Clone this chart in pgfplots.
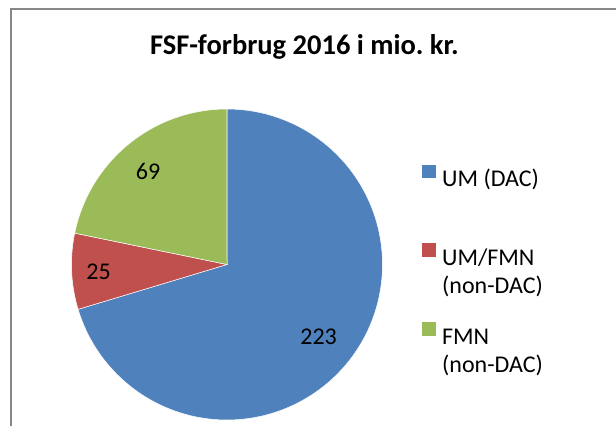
\documentclass[border=0pt]{standalone}
\usepackage{pgfplots}
\pgfplotsset{compat=1.18}
\usepackage{pgfplotstable}
\usepackage{fontspec}
\setmainfont{Carlito}
\definecolor{cblue}{HTML}{4F81BD}
\definecolor{cred}{HTML}{C0504D}
\definecolor{cgreen}{HTML}{9BBB59}
\definecolor{framec}{HTML}{888888}
\pgfplotstableread{
label value
UM-DAC 223
UM-FMN 25
FMN 69
}\piedata
\pgfplotstablegetelem{0}{value}\of\piedata \let\vA\pgfplotsretval
\pgfplotstablegetelem{1}{value}\of\piedata \let\vB\pgfplotsretval
\pgfplotstablegetelem{2}{value}\of\piedata \let\vC\pgfplotsretval
\frenchspacing
\begin{document}
\begin{tikzpicture}[x=1pt,y=1pt]
% picture frame in pixel coordinates shifted by (-71.5,-6)
\path[use as bounding box] (-71.5,-6) rectangle (544.5,420);
\pgfmathsetmacro{\tot}{\vA+\vB+\vC}
\pgfmathsetmacro{\aAs}{90-360*(\vA/\tot)}
\pgfmathsetmacro{\aBs}{\aAs-360*(\vB/\tot)}
\pgfmathsetmacro{\aCs}{\aBs-360*(\vC/\tot)}
\begin{axis}[scale only axis,
  width=311pt, height=311pt, xmin=-1, xmax=1, ymin=-1, ymax=1,
  hide axis, clip=false,
  legend cell align=left,
  legend image code/.code={\fill[#1] (0pt,-0.5pt) rectangle (14.5pt,14pt);},
  legend style={draw=none, fill=none, at={(1.114,0.8305)}, anchor=north west,
    font=\fontsize{24}{28}\selectfont, column sep=6pt, row sep=54.5pt,
    nodes={inner sep=0pt}},
]
\addplot[fill=cblue, draw=white, line width=0.5pt, domain=\aAs:90, samples=120] ({cos(x)},{sin(x)}) -- (axis cs:0,0) -- cycle;
\addlegendentry{UM (DAC)}
\addplot[fill=cred, draw=white, line width=0.5pt, domain=\aBs:\aAs, samples=30] ({cos(x)},{sin(x)}) -- (axis cs:0,0) -- cycle;
\addlegendentry{\begin{tabular}[t]{@{}l@{}}UM/FMN\\(non-DAC)\end{tabular}}
\addplot[fill=cgreen, draw=white, line width=0.5pt, domain=\aCs:\aBs, samples=60] ({cos(x)},{sin(x)}) -- (axis cs:0,0) -- cycle;
\addlegendentry{\begin{tabular}[t]{@{}l@{}}FMN\\(non-DAC)\end{tabular}}
\node[font=\fontsize{24}{28}\selectfont] at (axis cs:0.589,-0.463) {\vA};
\node[font=\fontsize{24}{28}\selectfont] at (axis cs:-0.826,-0.048) {\vB};
\node[font=\fontsize{24}{28}\selectfont] at (axis cs:-0.508,0.598) {\vC};
\end{axis}
\draw[framec, line width=1.1pt] (11-71.5,-6) -- (11-71.5,411) -- (544.5,411);
\node[font=\fontsize{28.5}{34}\selectfont\bfseries, anchor=base] at (304.5-71.5,426-55-6) {FSF-forbrug 2016 i mio. kr.};
\end{tikzpicture}
\end{document}
